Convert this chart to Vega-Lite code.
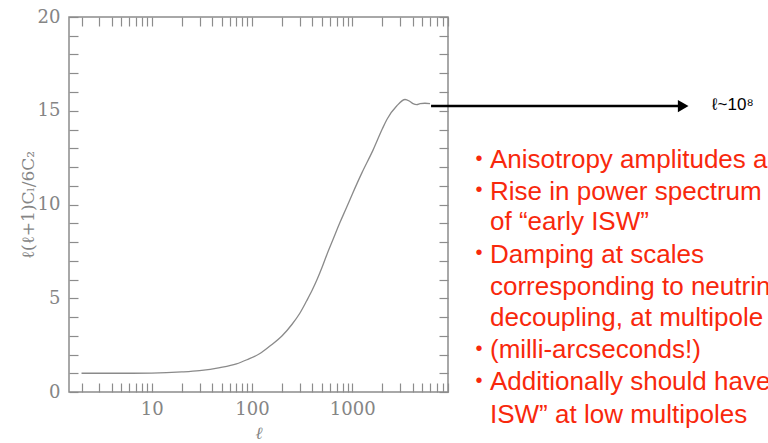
{
  "$schema": "https://vega.github.io/schema/vega-lite/v6.json",
  "autosize": {"type": "none"},
  "width": 379,
  "height": 375,
  "padding": {"left": 69, "top": 17, "right": 320, "bottom": 51},
  "background": "white",
  "config": {
    "view": {"stroke": "#8c8c8c", "strokeWidth": 1.5},
    "axis": {
      "domain": false,
      "grid": false,
      "ticks": true,
      "tickColor": "#8c8c8c",
      "tickWidth": 1.2,
      "labelColor": "#858585",
      "labelFont": "DejaVu Serif",
      "labelFontSize": 18,
      "titleColor": "#858585",
      "titleFont": "DejaVu Serif",
      "titleFontWeight": "normal",
      "titleFontSize": 17
    }
  },
  "datasets": {
    "curve": [
      {"ell": 2, "v": 1.0},
      {"ell": 5, "v": 1.0},
      {"ell": 10, "v": 1.01},
      {"ell": 20, "v": 1.07},
      {"ell": 30, "v": 1.14},
      {"ell": 48, "v": 1.3},
      {"ell": 70, "v": 1.5},
      {"ell": 89, "v": 1.72},
      {"ell": 120, "v": 2.05},
      {"ell": 151, "v": 2.45},
      {"ell": 200, "v": 3.0},
      {"ell": 250, "v": 3.6},
      {"ell": 300, "v": 4.2},
      {"ell": 350, "v": 4.85},
      {"ell": 400, "v": 5.45},
      {"ell": 450, "v": 6.05},
      {"ell": 500, "v": 6.65},
      {"ell": 560, "v": 7.35},
      {"ell": 650, "v": 8.2},
      {"ell": 755, "v": 9.05},
      {"ell": 870, "v": 9.8},
      {"ell": 1000, "v": 10.55},
      {"ell": 1250, "v": 11.7},
      {"ell": 1610, "v": 12.9},
      {"ell": 2000, "v": 14.05},
      {"ell": 2220, "v": 14.55},
      {"ell": 2770, "v": 15.25},
      {"ell": 3360, "v": 15.6},
      {"ell": 3700, "v": 15.52},
      {"ell": 4035, "v": 15.38},
      {"ell": 4400, "v": 15.33},
      {"ell": 4740, "v": 15.38},
      {"ell": 5300, "v": 15.4},
      {"ell": 5960, "v": 15.38}
    ],
    "arrow": [
      {"x": 6100, "x2": 1770000, "y": 15.25}
    ],
    "head": [
      {"x": 1990000, "y": 15.25}
    ],
    "label": [
      {"x": 3860000, "y": 15.3, "text": "ℓ~10⁸"}
    ],
    "bullets": [
      {"x": 18350, "y": 12.45},
      {"x": 18350, "y": 10.75},
      {"x": 18350, "y": 7.39},
      {"x": 18350, "y": 2.32},
      {"x": 18350, "y": 0.61}
    ],
    "notes": [
      {"x": 23600, "y": 12.37, "text": "Anisotropy amplitudes a"},
      {"x": 23600, "y": 10.67, "text": "Rise in power spectrum"},
      {"x": 23600, "y": 9.07, "text": "of “early ISW”"},
      {"x": 23600, "y": 7.31, "text": "Damping at scales"},
      {"x": 23600, "y": 5.6, "text": "corresponding to neutrin"},
      {"x": 23600, "y": 3.95, "text": "decoupling, at multipole"},
      {"x": 23600, "y": 2.24, "text": "(milli-arcseconds!)"},
      {"x": 23600, "y": 0.53, "text": "Additionally should have"},
      {"x": 23600, "y": -1.23, "text": "ISW” at low multipoles"}
    ]
  },
  "resolve": {"axis": {"x": "independent", "y": "independent"}},
  "layer": [
    {
      "data": {"name": "curve"},
      "mark": {"type": "line", "color": "#8a8a8a", "strokeWidth": 1.3, "interpolate": "monotone"},
      "encoding": {
        "x": {
          "field": "ell", "type": "quantitative",
          "scale": {"type": "log", "domain": [1.5, 9000], "nice": false},
          "axis": {
            "orient": "bottom",
            "values": [2,3,4,5,6,7,8,9,10,20,30,40,50,60,70,80,90,100,200,300,400,500,600,700,800,900,1000,2000,3000,4000,5000,6000,7000,8000,9000],
            "format": "d",
            "labelExpr": "(datum.value==10||datum.value==100||datum.value==1000) ? datum.label : ''",
            "labelOverlap": false,
            "tickSize": 9,
            "offset": -9,
            "labelPadding": 8,
            "labelFlush": false,
            "title": "ℓ",
            "titleFontStyle": "italic",
            "titleX": 189.5,
            "titleY": 50,
            "titleBaseline": "middle"
          }
        },
        "y": {
          "field": "v", "type": "quantitative",
          "scale": {"domain": [0, 20], "nice": false, "zero": false},
          "axis": {
            "orient": "left",
            "values": [0,1,2,3,4,5,6,7,8,9,10,11,12,13,14,15,16,17,18,19,20],
            "labelExpr": "(datum.value % 5 == 0) ? datum.label : ''",
            "labelOverlap": false,
            "tickSize": 9,
            "offset": -9,
            "labelPadding": 9,
            "labelFlush": false,
            "title": "ℓ(ℓ+1)Cₗ/6C₂",
            "titleAngle": -90,
            "titleX": -50,
            "titleY": 187.5,
            "titleAlign": "center",
            "titleBaseline": "middle"
          }
        }
      }
    },
    {
      "data": {"name": "arrow"},
      "mark": {"type": "rule", "color": "black", "strokeWidth": 2.6},
      "encoding": {
        "x": {
          "field": "x", "type": "quantitative",
          "scale": {"type": "log", "domain": [1.5, 9000], "nice": false},
          "axis": {
            "orient": "top",
            "values": [2,3,4,5,6,7,8,9,10,20,30,40,50,60,70,80,90,100,200,300,400,500,600,700,800,900,1000,2000,3000,4000,5000,6000,7000,8000,9000],
            "labels": false, "title": null,
            "tickSize": 9, "offset": -9
          }
        },
        "x2": {"field": "x2"},
        "y": {
          "field": "y", "type": "quantitative",
          "scale": {"domain": [0, 20], "nice": false, "zero": false},
          "axis": {
            "orient": "right",
            "values": [0,1,2,3,4,5,6,7,8,9,10,11,12,13,14,15,16,17,18,19,20],
            "labels": false, "title": null,
            "tickSize": 9, "offset": -9
          }
        }
      }
    },
    {
      "data": {"name": "head"},
      "mark": {"type": "point", "shape": "triangle-right", "filled": true, "color": "black", "opacity": 1, "size": 150},
      "encoding": {
        "x": {"field": "x", "type": "quantitative", "scale": {"type": "log", "domain": [1.5, 9000], "nice": false}, "axis": null},
        "y": {"field": "y", "type": "quantitative", "scale": {"domain": [0, 20], "nice": false, "zero": false}, "axis": null}
      }
    },
    {
      "data": {"name": "label"},
      "mark": {"type": "text", "align": "left", "baseline": "middle", "font": "Liberation Sans", "fontSize": 17, "color": "black"},
      "encoding": {
        "x": {"field": "x", "type": "quantitative", "scale": {"type": "log", "domain": [1.5, 9000], "nice": false}, "axis": null},
        "y": {"field": "y", "type": "quantitative", "scale": {"domain": [0, 20], "nice": false, "zero": false}, "axis": null},
        "text": {"field": "text"}
      }
    },
    {
      "data": {"name": "bullets"},
      "mark": {"type": "text", "text": "•", "align": "center", "baseline": "middle", "font": "Liberation Sans", "fontSize": 20, "color": "#f8280c"},
      "encoding": {
        "x": {"field": "x", "type": "quantitative", "scale": {"type": "log", "domain": [1.5, 9000], "nice": false}, "axis": null},
        "y": {"field": "y", "type": "quantitative", "scale": {"domain": [0, 20], "nice": false, "zero": false}, "axis": null}
      }
    },
    {
      "data": {"name": "notes"},
      "mark": {"type": "text", "align": "left", "baseline": "middle", "font": "Liberation Sans", "fontSize": 26, "color": "#f8280c"},
      "encoding": {
        "x": {"field": "x", "type": "quantitative", "scale": {"type": "log", "domain": [1.5, 9000], "nice": false}, "axis": null},
        "y": {"field": "y", "type": "quantitative", "scale": {"domain": [0, 20], "nice": false, "zero": false}, "axis": null},
        "text": {"field": "text"}
      }
    }
  ]
}
